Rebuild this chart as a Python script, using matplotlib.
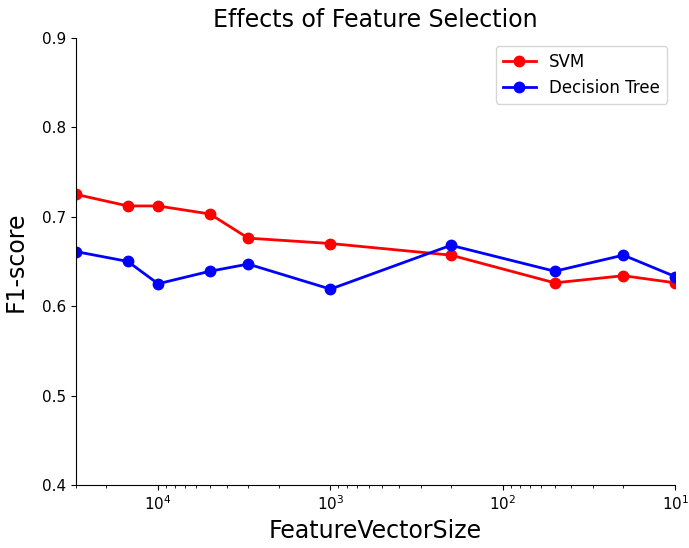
import matplotlib.pyplot as plt

feature_sizes = [30000, 15000, 10000, 5000, 3000, 1000, 200, 50, 20, 10]
svm_f1 = [0.725, 0.712, 0.712, 0.703, 0.676, 0.670, 0.657, 0.626, 0.634, 0.626]
tree_f1 = [0.661, 0.650, 0.625, 0.639, 0.647, 0.619, 0.668, 0.639, 0.657, 0.633]

fig = plt.figure(figsize=(6.89, 5.48), dpi=100)
ax = fig.add_axes([0.11, 0.115, 0.87, 0.816])

ax.plot(feature_sizes, svm_f1, "o-", color="red", linewidth=2, markersize=7.5, label="SVM")
ax.plot(feature_sizes, tree_f1, "o-", color="blue", linewidth=2, markersize=7.5, label="Decision Tree")

ax.set_xscale("log")
ax.set_xlim(30000, 10)
ax.set_ylim(0.4, 0.9)
ax.spines["top"].set_visible(False)
ax.spines["right"].set_visible(False)
ax.tick_params(labelsize=11)

ax.set_title("Effects of Feature Selection", fontsize=17, pad=8)
ax.set_xlabel("FeatureVectorSize", fontsize=17)
ax.set_ylabel("F1-score", fontsize=17, labelpad=10)
ax.legend(fontsize=12)

fig.savefig("out.png", dpi=100)
